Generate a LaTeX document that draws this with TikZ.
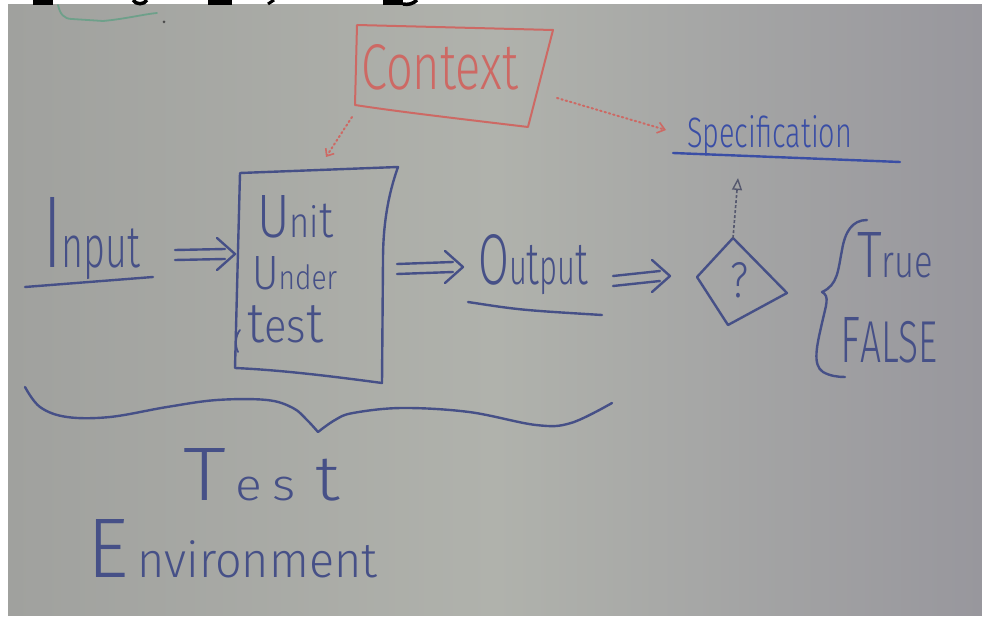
\documentclass[tikz,border=0pt]{standalone}
\usepackage{graphicx}
\usepackage{fontspec}
\setmainfont{Fira Sans}[UprightFont=* Light]
\usetikzlibrary{arrows.meta,calc}
\definecolor{board}{RGB}{176,178,172}
\definecolor{boardL}{RGB}{160,161,158}
\definecolor{boardR}{RGB}{152,151,157}
\definecolor{ink}{RGB}{70,80,135}
\definecolor{inkb}{RGB}{58,78,165}
\definecolor{redink}{RGB}{205,105,100}
\definecolor{greenink}{RGB}{110,160,138}
\definecolor{dotink}{RGB}{85,88,110}
\newcommand\fitto[3]{\resizebox{#1pt}{#2pt}{#3}}
\newcommand\dbarrow[2]{%
  \draw[hand] ($(#1)+(0,-5)$) -- ($(#2)+(-10,-5)$);
  \draw[hand] ($(#1)+(0,5)$) -- ($(#2)+(-10,5)$);
  \draw[hand] ($(#2)+(-18,-16)$) -- (#2) -- ($(#2)+(-18,16)$);}
\tikzset{
  hand/.style={line width=2.4pt, line cap=round, line join=round, draw=ink},
  lbl/.style={inner sep=0pt, anchor=base west, text=ink},
  reddot/.style={draw=redink, line width=2pt, dash pattern=on 1.5pt off 3pt, line cap=round},
  redbox/.style={draw=redink, line width=2pt, line join=round},
}
\begin{document}
\begin{tikzpicture}[x=1pt,y=-1pt]
\useasboundingbox (0,0) rectangle (982,617);
\fill[white] (0,0) rectangle (982,617);
\shade[left color=boardL, right color=boardR, middle color=board] (8,5) rectangle (982,615);

% cropped fragments at the top edge
\fill[black] (33,0) rectangle (53,5);
\fill[black] (208,0) rectangle (232,5);
\fill[black] (383,0) rectangle (403,5);
\draw[black, line width=3.5pt] (133,0) .. controls (136,5) and (144,5) .. (147,0);
\draw[black, line width=3pt] (268,4) -- (274,0);
\draw[black, line width=3.5pt] (417,0) .. controls (413,4) and (408,5) .. (403,4);
\draw[greenink, line width=1.8pt, line cap=round] (58,5) .. controls (60,14) and (64,19) .. (72,19) -- (103,21) .. controls (125,19) and (145,14) .. (157,13);
\fill[black!70] (164,22) circle (1.5pt);

% Context
\coordinate (cTL) at (357,25); \coordinate (cTR) at (553,30);
\coordinate (cBR) at (528,127); \coordinate (cBL) at (355,105);
\draw[redbox] (cTL) -- (cTR) -- (cBR) .. controls (470,120) and (400,112) .. (cBL) -- cycle;
\node[lbl, text=redink] (context) at (361,90) {\fitto{157}{45}{Context}};

% Unit under test box
\coordinate (uTL) at (240,173); \coordinate (uTR) at (398,167);
\coordinate (uBR) at (382,383); \coordinate (uBL) at (235,368);
\draw[hand] (uTL) -- (uTR) .. controls (388,195) and (383,225) .. (383,260) -- (uBR) .. controls (330,376) and (280,370) .. (uBL) -- cycle;
\draw[hand, line width=1.8pt] (240,330) .. controls (235,336) and (235,346) .. (238,352);
\node[lbl] (unit) at (257,238) {\fitto{76}{42}{{\Large U}ni{\large t}}};
\node[lbl] (under) at (252,290) {\fitto{85}{33}{{\Large U}nder}};
\node[lbl] (test) at (247,342) {\fitto{76}{37}{{\large t}es{\large t}}};

% Input
\node[lbl] (input) at (43,268) {\fitto{97}{70}{{\LARGE I}nput}};
\draw[hand] (25,287) -- (153,277);
\coordinate (a1s) at (175,255); \coordinate (a1e) at (235,254);
\dbarrow{a1s}{a1e}

% Output
\coordinate (a2s) at (397,269); \coordinate (a2e) at (463,267);
\dbarrow{a2s}{a2e}
\node[lbl] (output) at (478,285) {\fitto{110}{50}{{\Large O}u{\large t}pu{\large t}}};
\draw[hand] (468,302) .. controls (520,310) .. (602,315);
\coordinate (a3s) at (613,281); \coordinate (a3e) at (670,276);
\dbarrow{a3s}{a3e}

% decision diamond
\coordinate (dT) at (733,238); \coordinate (dR) at (787,293);
\coordinate (dB) at (728,325); \coordinate (dL) at (697,277);
\draw[hand] (dT) -- (dR) -- (dB) -- (dL) -- cycle;
\node[lbl] (q) at (730,298) {\fitto{18}{35}{?}};

% Specification
\node[lbl, text=inkb] (spec) at (687,148) {\fitto{165}{32}{Specification}};
\draw[hand, draw=inkb] (673,153) -- (900,162);
\coordinate (specIn) at (738,178);
\draw[draw=dotink, line width=1.6pt, dash pattern=on 3pt off 2pt, -{Triangle[open, length=12pt, width=10pt, line width=1.4pt]}] (dT) -- (specIn);

% red dotted context links
\coordinate (ctxA) at (352,117); \coordinate (uutTop) at (326,157);
\draw[reddot, -{Straight Barb[length=6pt, width=10pt, line width=1.6pt]}] (ctxA) -- (uutTop);
\coordinate (ctxB) at (557,98); \coordinate (specL) at (666,130);
\draw[reddot, -{Straight Barb[length=7pt, width=11pt, line width=1.6pt]}] (ctxB) -- (specL);

% True / False brace
\draw[hand] (867,220) .. controls (852,220) and (845,232) .. (842,250) .. controls (838,270) and (838,285) .. (822,292) .. controls (830,296) and (826,305) .. (822,323) .. controls (817,345) and (812,365) .. (823,372) .. controls (830,376) and (838,377) .. (845,377);
\node[lbl] (true) at (857,278) {\fitto{76}{45}{{\Large T}rue}};
\node[lbl] (false) at (840,362) {\fitto{97}{45}{F{\small ALSE}}};

% bottom brace
\draw[hand] plot[smooth, tension=0.6] coordinates {(25,387) (40,407) (67,417) (110,417) (167,407) (217,400) (267,400) (293,408) (307,420) (318,432)};
\draw[hand] plot[smooth, tension=0.6] coordinates {(318,432) (335,420) (353,413) (402,408) (469,412) (536,425) (571,423) (612,403)};
\node[lbl] (testlbl) at (183,500) {\fitto{157}{52}{{\LARGE T}\kern2pt e\kern2pt s\kern4pt {\Large t}}};
\node[lbl] (env) at (87,577) {\fitto{290}{58}{{\LARGE E}\kern2pt nvironment}};
\end{tikzpicture}
\end{document}
